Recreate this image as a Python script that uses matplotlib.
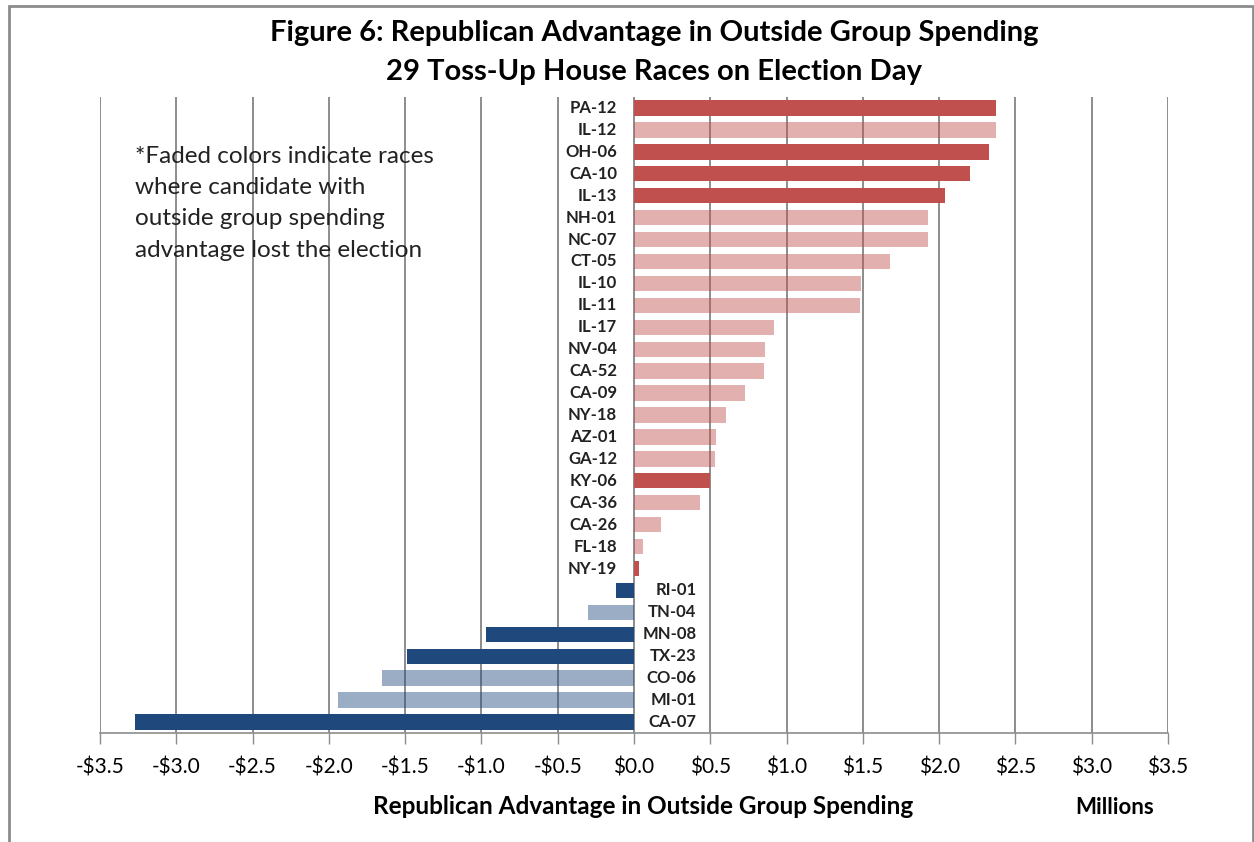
import numpy as np
import matplotlib.pyplot as plt
from matplotlib.patches import Rectangle

# --- datos ---
races = ["PA-12", "IL-12", "OH-06", "CA-10", "IL-13", "NH-01", "NC-07", "CT-05",
         "IL-10", "IL-11", "IL-17", "NV-04", "CA-52", "CA-09", "NY-18", "AZ-01",
         "GA-12", "KY-06", "CA-36", "CA-26", "FL-18", "NY-19", "RI-01", "TN-04",
         "MN-08", "TX-23", "CO-06", "MI-01", "CA-07"]
advantage = [2.37, 2.37, 2.33, 2.20, 2.04, 1.93, 1.93, 1.68,
             1.49, 1.48, 0.92, 0.86, 0.85, 0.73, 0.60, 0.54,
             0.53, 0.50, 0.43, 0.18, 0.06, 0.03, -0.12, -0.30,
             -0.97, -1.49, -1.65, -1.94, -3.27]
# True = candidate with advantage lost (faded)
lost = [False, True, False, False, False, True, True, True,
        True, True, True, True, True, True, True, True,
        True, False, True, True, True, False, False, True,
        False, False, True, True, False]
ticks = np.arange(-3.5, 3.51, 0.5)

RED = "#C0504D"
BLUE = "#1F497D"

plt.rcParams['font.family'] = ['Lato', 'DejaVu Sans']

fig = plt.figure(figsize=(12.54, 8.42), dpi=100)
ax = fig.add_axes([100/1254, 1 - 733/842, 1068/1254, 636/842])

y = np.arange(len(races))
for yi, v, l in zip(y, advantage, lost):
    c = RED if v > 0 else BLUE
    ax.barh(yi, v, height=0.7, color=c, alpha=0.45 if l else 1.0, zorder=3)

# etiquetas junto al eje cero
for yi, v, name in zip(y, advantage, races):
    xpos = -0.11 if v > 0 else 0.41
    ax.text(xpos, yi, name, ha='right', va='center', fontsize=12,
            fontweight='bold', color='#222222')

ax.set_xlim(-3.5, 3.5)
ax.set_ylim(len(races) - 0.5, -0.5)
ax.set_xticks(ticks)
ax.set_xticklabels([("-$%.1f" % abs(t)) if t < -1e-9 else ("$%.1f" % abs(t)) for t in ticks],
                   fontsize=15)
ax.set_yticks([])
ax.tick_params(axis='x', length=8, width=1, color='#8c8c8c', pad=10)
ax.grid(axis='x', color='#8c8c8c', linewidth=1.4, zorder=0)
ax.set_axisbelow(True)
for s in ['top', 'right', 'left']:
    ax.spines[s].set_visible(False)
ax.spines['bottom'].set_color('#8c8c8c')
ax.spines['bottom'].set_linewidth(1.2)

fig.text(643/1254, 1 - 807/842, "Republican Advantage in Outside Group Spending",
         ha='center', va='center', fontsize=17.5, fontweight='bold')
fig.text(1115/1254, 1 - 807/842, "Millions", ha='center', va='center',
         fontsize=16, fontweight='bold')

fig.text(654/1254, 1 - 33/842, "Figure 6: Republican Advantage in Outside Group Spending",
         ha='center', va='center', fontsize=21, fontweight='bold')
fig.text(654/1254, 1 - 72/842, "29 Toss-Up House Races on Election Day",
         ha='center', va='center', fontsize=21, fontweight='bold')

fig.text(135/1254, 1 - 146/842,
         "*Faded colors indicate races\nwhere candidate with\noutside group spending\nadvantage lost the election",
         ha='left', va='top', fontsize=17.5, linespacing=1.6, color='#222222')

# marco exterior
fig.patches.append(Rectangle((9/1254, -0.01), 1244/1254, 1 - 6/842 + 0.01,
                             transform=fig.transFigure, fill=False,
                             edgecolor='#8c8c8c', linewidth=2))

plt.savefig("out.png", dpi=100)
